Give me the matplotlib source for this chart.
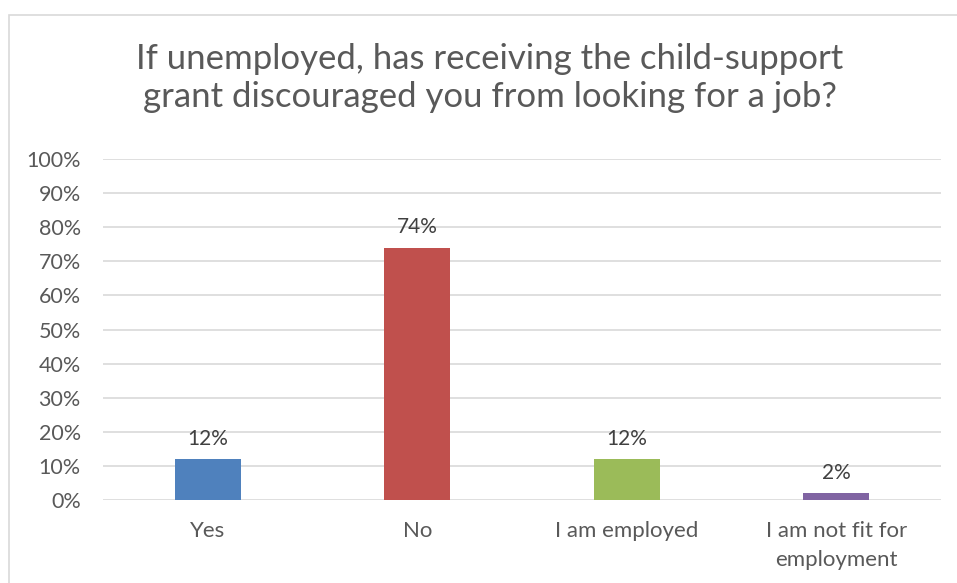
import matplotlib
matplotlib.use("Agg")
import matplotlib.pyplot as plt
from matplotlib.patches import Rectangle

# survey answers and shares
answers = ["Yes", "No", "I am employed", "I am not fit for\nemployment"]
shares = [12, 74, 12, 2]
bar_colors = ["#4F81BD", "#C0504D", "#9BBB59", "#8064A2"]
yticks = list(range(0, 101, 10))

plt.rcParams['font.family'] = ['Lato', 'DejaVu Sans']
txt = "#595959"

W, H = 957, 583
fig = plt.figure(figsize=(W / 100, H / 100), dpi=100)

# chart frame (runs off the right and bottom edges)
fig.patches.append(Rectangle((9 / W, -0.05), 1.0, 1 - 15 / H + 0.05,
                             transform=fig.transFigure, fill=False,
                             edgecolor="#D9D9D9", lw=1.2))

ax = fig.add_axes([103 / W, 1 - 500 / H, (941 - 103) / W, (500 - 159) / H])
x = range(len(answers))
ax.bar(x, shares, width=0.315, color=bar_colors, zorder=3)
for i, v in enumerate(shares):
    ax.text(i, v + 3, f"{v}%", ha="center", va="bottom", fontsize=15, color="#404040")

ax.set_xlim(-0.5, len(answers) - 0.5)
ax.set_ylim(0, 100)
ax.set_yticks(yticks)
ax.set_yticklabels([f"{t}%" for t in yticks], fontsize=15.5, color=txt)
ax.set_xticks(list(x))
ax.set_xticklabels(answers, fontsize=16, color=txt, linespacing=1.6)
ax.tick_params(axis="y", length=0, pad=16)
ax.tick_params(axis="x", length=0, pad=15)
ax.grid(axis="y", color="#D9D9D9", lw=1.2, zorder=0)
for s in ax.spines.values():
    s.set_visible(False)

fig.text(490 / W, 1 - 78 / H,
         "If unemployed, has receiving the child-support\ngrant discouraged you from looking for a job?",
         ha="center", va="center", fontsize=25, color=txt, linespacing=1.25)

fig.savefig("out.png", dpi=100)
